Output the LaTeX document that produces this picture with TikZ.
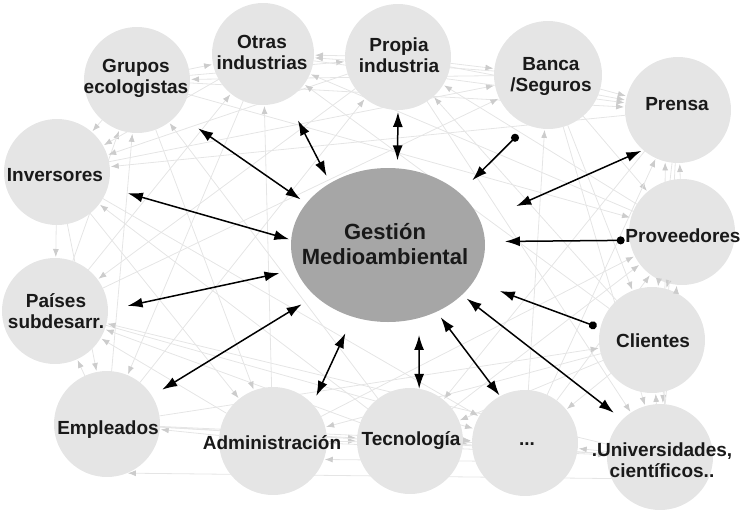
\documentclass[tikz,border=0pt]{standalone}
\usepackage{fontspec}
\setmainfont{Liberation Sans}
\usetikzlibrary{arrows.meta,shapes.geometric}
\begin{document}
\begin{tikzpicture}[x=1pt,y=-1pt,
  circ/.style={circle,fill=black!10,minimum size=106pt,inner sep=0pt,outer sep=0pt},
  lbl/.style={font=\bfseries\fontsize{19}{21}\selectfont,text=black!90,align=center,inner sep=0pt},
  clbl/.style={font=\bfseries\fontsize{22}{25}\selectfont,text=black!90,align=center,inner sep=0pt},
  mesh/.style={draw=black!10,line width=0.8pt,-{Latex[length=8pt,width=6pt,color=black!20]},shorten >=1pt},
  biarrow/.style={line width=1.5pt,{Latex[length=15pt,width=10pt]}-{Latex[length=15pt,width=10pt]}},
  dotarrow/.style={line width=1.5pt,{Latex[length=15pt,width=10pt]}-{Circle[length=8pt]}}]
\useasboundingbox (0,0) rectangle (744,509);
% peripheral circles
\node[circ] (gr) at (137,80) {};
\node[circ,minimum size=102pt] (ot) at (263,54) {};
\node[circ] (pr) at (398,57) {};
\node[circ,minimum size=108pt] (ba) at (548,75) {};
\node[circ] (pe) at (678,110) {};
\node[circ] (pv) at (682,232) {};
\node[circ] (cl) at (652,340) {};
\node[circ] (un) at (660,457) {};
\node[circ] (dd) at (525,443) {};
\node[circ] (te) at (410,441) {};
\node[circ,minimum size=108pt] (ad) at (273,441) {};
\node[circ] (em) at (107,424) {};
\node[circ] (pa) at (55,311) {};
\node[circ] (inv) at (57,172) {};
% faint mesh of relations between the stakeholders
\foreach \a/\b in {gr/ot,pr/ot,pr/ba,ba/pe,pv/pe,pv/cl,un/cl,un/dd,te/dd,ad/te,ad/em,em/pa,inv/pa,gr/inv,
  gr/pr,ba/ot,pr/pe,ba/pv,pe/cl,un/pv,cl/dd,te/un,dd/ad,em/te,ad/pa,inv/em,pa/gr,ot/inv,
  ba/gr,ot/pe,pv/pr,ba/cl,pe/un,dd/pv,cl/te,ad/un,em/dd,te/pa,inv/ad,em/gr,pa/ot,pr/inv,
  gr/pe,pv/ot,cl/pr,ba/un,dd/pe,te/pv,cl/ad,em/un,pa/dd,te/inv,gr/ad,ot/em,pr/pa,inv/ba,
  gr/pv,cl/ot,pr/un,dd/ba,pe/te,ad/pv,em/cl,un/pa,inv/dd,te/gr,ad/ot,em/pr,pa/ba,pe/inv}
  \draw[mesh] (\a) -- (\b);
\draw[mesh] (un.85) -- (pe.-104);
\draw[mesh] (un.204) -- (em.-68);
\draw[mesh] (dd.200) -- (ad.-20);
% central node
\node[ellipse,fill=black!35,minimum width=194pt,minimum height=154pt,inner sep=0pt,outer sep=0pt] (g) at (388,245) {};
% main relations
\draw[biarrow,shorten <=7pt,shorten >=25pt] (g.153) -- (gr.-40);
\draw[biarrow,shorten <=8pt,shorten >=24pt] (g.133) -- (ot.-62);
\draw[biarrow,shorten <=8pt,shorten >=2pt] (g.83) -- (pr.-90);
\draw[dotarrow,shorten <=18pt,shorten >=14pt] (g.36) -- (ba.-112);
\draw[biarrow,shorten <=39pt,shorten >=2pt] (g.14) -- (pe.-131);
\draw[dotarrow,shorten <=20pt,shorten >=5pt] (g.2) -- (pv.-171);
\draw[dotarrow,shorten <=28pt,shorten >=4pt] (g.-23) -- (cl.167);
\draw[biarrow,shorten <=6pt,shorten >=11pt] (g.-34) -- (un.135);
\draw[biarrow,shorten <=7pt,shorten >=1pt] (g.-54) -- (dd.118);
\draw[biarrow,shorten <=17pt,shorten >=0pt] (g.-67) -- (te.80);
\draw[biarrow,shorten <=18pt,shorten >=9pt] (g.-116) -- (ad.43);
\draw[biarrow,shorten <=16pt,shorten >=12pt] (g.-145) -- (em.32);
\draw[biarrow,shorten <=17pt,shorten >=20pt] (g.-165) -- (pa.1);
\draw[biarrow,shorten <=2pt,shorten >=21pt] (g.177) -- (inv.-17);
% labels
\node[clbl] (gT) at (385,244) {Gestión\\Medioambiental};
\node[lbl] (grT) at (136,78) {Grupos\\ecologistas};
\node[lbl] (otT) at (262,52) {Otras\\industrias};
\node[lbl] (prT) at (399,55) {Propia\\industria};
\node[lbl] (baT) at (551,76) {Banca\\/Seguros};
\node[lbl] (peT) at (677,104) {Prensa};
\node[lbl] (invT) at (55,175) {Inversores};
\node[lbl] (pvT) at (683,236) {Proveedores};
\node[lbl] (paT) at (56,311) {Países\\subdesarr.};
\node[lbl] (clT) at (653,341) {Clientes};
\node[lbl] (emT) at (108,430) {Empleados};
\node[lbl] (adT) at (272,443) {Administración};
\node[lbl] (teT) at (411,441) {Tecnología};
\node[lbl] (ddT) at (527,444) {...};
\node[lbl] (unT) at (662,460) {.Universidades,\\científicos..};
\end{tikzpicture}
\end{document}
